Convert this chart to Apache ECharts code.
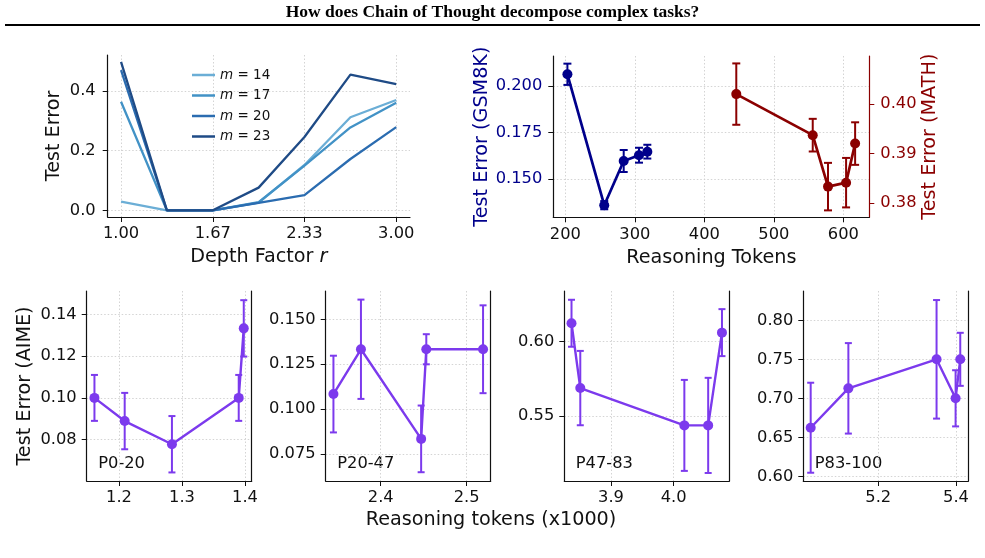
<!DOCTYPE html>
<html>
<head>
<meta charset="utf-8">
<script src="https://cdn.jsdelivr.net/npm/echarts@6/dist/echarts.min.js"></script>
<style>
  html, body { margin: 0; padding: 0; background: #fff; }
  #main { width: 985px; height: 558px; }
</style>
</head>
<body>
<div id="main"></div>
<script>
// top-left: test error vs depth factor, one line per width m
const depthFactors = [1.0, 1.333, 1.667, 2.0, 2.333, 2.667, 3.0];
const depthTicks = [1.0, 1.667, 2.333, 3.0];
const widthNames = ['m = 14', 'm = 17', 'm = 20', 'm = 23'];
const errM14 = [0.029, 0, 0, 0.026, 0.152, 0.312, 0.370];
const errM17 = [0.364, 0, 0, 0.027, 0.150, 0.278, 0.361];
const errM20 = [0.470, 0, 0, 0.025, 0.051, 0.172, 0.279];
const errM23 = [0.498, 0, 0, 0.076, 0.246, 0.455, 0.423];
const errTicks = [0, 0.2, 0.4];

// top-right: GSM8K (left axis) and MATH (right axis)
const gsmTokens = [203, 256, 284, 306, 318];
const gsmError = [0.2063, 0.1361, 0.1598, 0.1629, 0.1648];
const gsmBar = [0.0057, 0.0022, 0.0059, 0.0040, 0.0037];
const mathTokens = [446, 556, 578, 604, 617];
const mathError = [0.4020, 0.3937, 0.3833, 0.3841, 0.3920];
const mathBar = [0.0062, 0.0033, 0.0048, 0.0050, 0.0043];
const tokenTicks = [200, 300, 400, 500, 600];
const gsmTicks = [0.150, 0.175, 0.200];
const mathTicks = [0.38, 0.39, 0.40];

// bottom row: AIME by percentile bucket (tokens in thousands)
const bucketNames = ['P0-20', 'P20-47', 'P47-83', 'P83-100'];
const aimeTokens = [
  [1.161, 1.209, 1.284, 1.390, 1.398],
  [2.345, 2.377, 2.447, 2.453, 2.519],
  [3.837, 3.851, 4.017, 4.055, 4.077],
  [5.026, 5.123, 5.350, 5.399, 5.411]
];
const aimeError = [
  [0.1000, 0.0889, 0.0778, 0.1000, 0.1333],
  [0.1083, 0.1333, 0.0833, 0.1333, 0.1333],
  [0.6124, 0.5688, 0.5437, 0.5437, 0.6061],
  [0.6623, 0.7128, 0.7500, 0.7000, 0.7500]
];
const aimeBar = [
  [0.0110, 0.0135, 0.0135, 0.0110, 0.0135],
  [0.0214, 0.0277, 0.0186, 0.0084, 0.0245],
  [0.0158, 0.0250, 0.0306, 0.0320, 0.0158],
  [0.0577, 0.0580, 0.0760, 0.0360, 0.0340]
];
const aimeXTicks = [[1.2, 1.3, 1.4], [2.4, 2.5], [3.9, 4.0], [5.2, 5.4]];
const aimeYTicks = [
  [0.08, 0.10, 0.12, 0.14],
  [0.075, 0.100, 0.125, 0.150],
  [0.55, 0.60],
  [0.60, 0.65, 0.70, 0.75, 0.80]
];

const FONT = 'DejaVu Sans';
const TICK_SIZE = 16.3;
const NAME_SIZE = 19.2;
const PURPLE = '#7c3aed';
const NAVY = '#00008b';
const DARKRED = '#8b0000';
const blues = ['#6baed6', '#4292c6', '#2b6cb0', '#1f4b86'];

const chart = echarts.init(document.getElementById('main'), null, { renderer: 'canvas' });

function axis(gridIndex, min, max, ticks, digits, opts) {
  opts = opts || {};
  const color = opts.color || '#111';
  return {
    type: 'value',
    gridIndex: gridIndex,
    min: min,
    max: max,
    position: opts.position,
    name: opts.name,
    nameLocation: 'middle',
    nameGap: opts.nameGap,
    nameTextStyle: {
      fontFamily: FONT, fontSize: NAME_SIZE, color: opts.nameColor || '#111',
      rich: { i: { fontFamily: FONT, fontSize: NAME_SIZE, fontStyle: 'italic', color: '#111' } }
    },
    axisLine: { show: true, onZero: false, lineStyle: { color: opts.lineColor || '#111', width: 1.2 } },
    axisTick: { show: !opts.bare, customValues: ticks, length: 5, inside: false,
      lineStyle: { color: opts.lineColor || '#111', width: 1 } },
    axisLabel: { show: !opts.bare, customValues: ticks, formatter: v => v.toFixed(digits),
      color: color, fontFamily: FONT, fontSize: TICK_SIZE, margin: opts.margin || 9 },
    splitLine: { show: !!opts.grid, lineStyle: { color: '#cfcfcf', width: 0.9, type: [1.5, 2] } }
  };
}

function errorBars(xi, yi, xs, ys, bars, color, cap) {
  return {
    type: 'custom',
    xAxisIndex: xi,
    yAxisIndex: yi,
    z: 2,
    silent: true,
    data: xs.map((x, i) => [x, ys[i] - bars[i], ys[i] + bars[i]]),
    renderItem: function (params, api) {
      const lo = api.coord([api.value(0), api.value(1)]);
      const hi = api.coord([api.value(0), api.value(2)]);
      const st = { stroke: color, lineWidth: 2 };
      return {
        type: 'group',
        children: [
          { type: 'line', shape: { x1: lo[0], y1: lo[1], x2: hi[0], y2: hi[1] }, style: st },
          { type: 'line', shape: { x1: lo[0] - cap, y1: lo[1], x2: lo[0] + cap, y2: lo[1] }, style: st },
          { type: 'line', shape: { x1: hi[0] - cap, y1: hi[1], x2: hi[0] + cap, y2: hi[1] }, style: st }
        ]
      };
    }
  };
}

function pointLine(xi, yi, xs, ys, color, width, name) {
  return {
    name: name,
    type: 'line',
    xAxisIndex: xi,
    yAxisIndex: yi,
    z: 3,
    data: xs.map((x, i) => [x, ys[i]]),
    symbol: 'circle',
    symbolSize: 10,
    itemStyle: { color: color },
    lineStyle: { color: color, width: width },
    animation: false
  };
}

const grids = [
  { left: 107.7, top: 55, width: 302.3, height: 162 },
  { left: 553.3, top: 56, width: 316, height: 161.3 },
  { left: 86.7, top: 291, width: 165, height: 190 },
  { left: 325.7, top: 291, width: 165, height: 190 },
  { left: 564.3, top: 291, width: 165, height: 190 },
  { left: 803.3, top: 291, width: 165, height: 190 }
];

const xAxes = [
  axis(0, 0.903, 3.1, depthTicks, 2, { grid: true, name: 'Depth Factor {i|r}', nameGap: 31 }),
  axis(1, 182.7, 637.4, tokenTicks, 0, { grid: true, name: 'Reasoning Tokens', nameGap: 31 })
];
const yAxes = [
  axis(0, -0.0225, 0.521, errTicks, 1, { grid: true, name: 'Test Error', nameGap: 44, margin: 12 }),
  axis(1, 0.1296, 0.2161, gsmTicks, 3, { grid: true, color: NAVY, nameColor: NAVY,
    name: 'Test Error (GSM8K)', nameGap: 62, margin: 11 }),
  axis(1, 0.3771, 0.4097, mathTicks, 2, { position: 'right', color: DARKRED, nameColor: DARKRED,
    lineColor: DARKRED, name: 'Test Error (MATH)', nameGap: 50, margin: 11 })
];
yAxes[2].nameRotate = 90;

const xRanges = [[1.1487, 1.4106], [2.336, 2.5279], [3.8255, 4.0887], [5.007, 5.4317]];
const yRanges = [[0.0602, 0.1512], [0.0598, 0.1658], [0.5063, 0.6341], [0.594, 0.8376]];

const series = [];
[errM14, errM17, errM20, errM23].forEach((vals, k) => {
  series.push({
    name: widthNames[k],
    type: 'line',
    xAxisIndex: 0,
    yAxisIndex: 0,
    data: depthFactors.map((x, i) => [x, vals[i]]),
    symbol: 'none',
    color: blues[k],
    lineStyle: { color: blues[k], width: 2.3 },
    z: 3 + k,
    animation: false
  });
});

series.push(errorBars(1, 1, gsmTokens, gsmError, gsmBar, NAVY, 4));
series.push(pointLine(1, 1, gsmTokens, gsmError, NAVY, 2.7));
series.push(errorBars(1, 2, mathTokens, mathError, mathBar, DARKRED, 4));
series.push(pointLine(1, 2, mathTokens, mathError, DARKRED, 2.7));

const graphics = [
  { type: 'text', left: 'center', top: 3,
    style: { text: 'How does Chain of Thought decompose complex tasks?', font: 'bold 17.5px "Liberation Serif"', fill: '#000' } },
  { type: 'line', shape: { x1: 5, y1: 25, x2: 980, y2: 25 }, style: { stroke: '#000', lineWidth: 2 } },
  { type: 'text', x: 491, y: 520,
    style: { text: 'Reasoning tokens (x1000)', font: NAME_SIZE + 'px "DejaVu Sans"', fill: '#111', align: 'center', verticalAlign: 'middle' } }
];

for (let p = 0; p < 4; p++) {
  const gi = 2 + p;
  const xi = xAxes.length;
  xAxes.push(axis(gi, xRanges[p][0], xRanges[p][1], aimeXTicks[p], 1, { grid: true }));
  const yi = yAxes.length;
  const opts = { grid: true, margin: 10 };
  if (p === 0) { opts.name = 'Test Error (AIME)'; opts.nameGap = 52; }
  yAxes.push(axis(gi, yRanges[p][0], yRanges[p][1], aimeYTicks[p], p === 1 ? 3 : 2, opts));
  // right spine only
  yAxes.push(axis(gi, yRanges[p][0], yRanges[p][1], aimeYTicks[p], 2, { position: 'right', bare: true }));
  series.push(errorBars(xi, yi, aimeTokens[p], aimeError[p], aimeBar[p], PURPLE, 3.5));
  series.push(pointLine(xi, yi, aimeTokens[p], aimeError[p], PURPLE, 2.4));
  graphics.push({ type: 'text', x: grids[gi].left + 11.5, y: 463.3,
    style: { text: bucketNames[p], font: TICK_SIZE + 'px "DejaVu Sans"', fill: '#111', verticalAlign: 'middle' } });
}

chart.setOption({
  backgroundColor: '#fff',
  animation: false,
  grid: grids.map(g => Object.assign({ containLabel: false, outerBoundsMode: 'none' }, g)),
  xAxis: xAxes,
  yAxis: yAxes,
  legend: {
    data: widthNames,
    orient: 'vertical',
    left: 187,
    top: 63,
    icon: 'rect',
    itemWidth: 23,
    itemHeight: 2.5,
    itemGap: 6.5,
    itemTextGap: 10,
    textStyle: { fontFamily: FONT, fontSize: 13.5, color: '#111',
      rich: { i: { fontFamily: FONT, fontSize: 13.5, fontStyle: 'italic', color: '#111' } } },
    formatter: name => '{i|m} =' + name.slice(3)
  },
  graphic: graphics,
  series: series
});
</script>
</body>
</html>
